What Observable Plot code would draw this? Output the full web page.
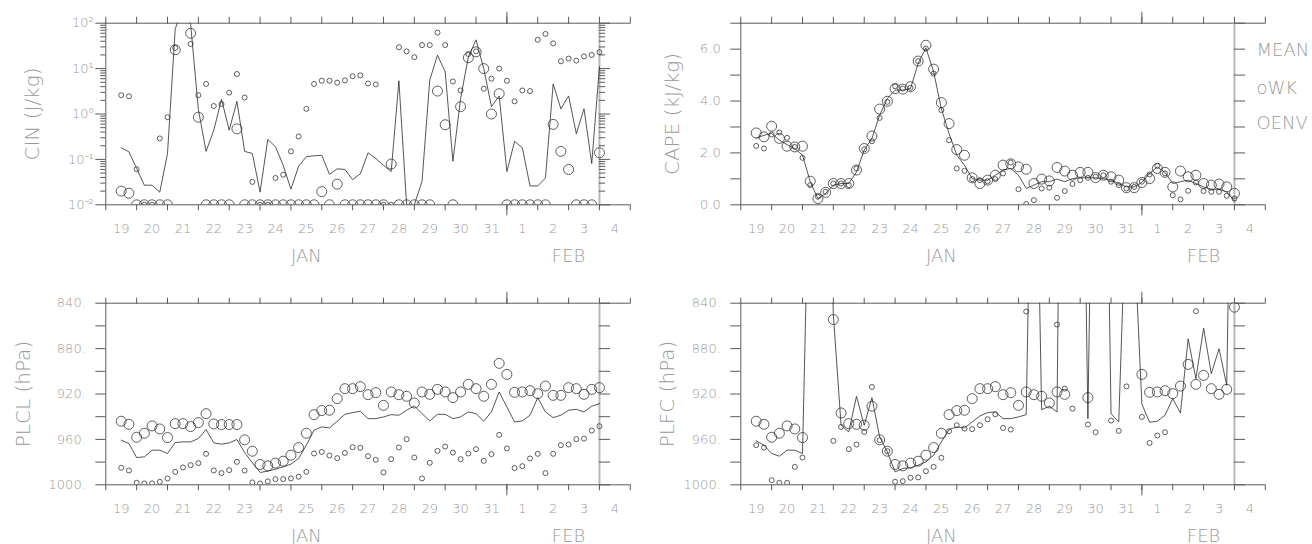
<!DOCTYPE html>
<html><head><meta charset="utf-8">
<script src="https://cdn.jsdelivr.net/npm/d3@7"></script>
<script src="https://cdn.jsdelivr.net/npm/@observablehq/plot@0.6"></script>
<style>
body{margin:0;background:#fff;}
#wrap{position:relative;width:1312px;height:544px;overflow:hidden;background:#fff;}
.panel{position:absolute;}
.panel text{font-weight:200;}
</style></head><body><div id="wrap"></div>
<script>
// time in days since 19 Jan 00 UTC, 6-hourly
const days = [0.5,0.75,1,1.25,1.5,1.75,2,2.25,2.5,2.75,3,3.25,3.5,3.75,4,4.25,4.5,4.75,5,5.25,5.5,5.75,6,6.25,6.5,6.75,7,7.25,7.5,7.75,8,8.25,8.5,8.75,9,9.25,9.5,9.75,10,10.25,10.5,10.75,11,11.25,11.5,11.75,12,12.25,12.5,12.75,13,13.25,13.5,13.75,14,14.25,14.5,14.75,15,15.25,15.5,15.75,16];
const dayTicks = [0,1,2,3,4,5,6,7,8,9,10,11,12,13,14,15,16,17];
const monthTick = [13];
const dayLabelPos = [0.5,1.5,2.5,3.5,4.5,5.5,6.5,7.5,8.5,9.5,10.5,11.5,12.5,13.5,14.5,15.5,16.5];
const dayLabels = ["19","20","21","22","23","24","25","26","27","28","29","30","31","1","2","3","4"];
const monthLabels = ["JAN","FEB"];
const monthPos = [6.5,15];
const legendLabels = ["MEAN","oWK","OENV"];

// CIN (J/kg)
const cinMean = [0.18,0.147,0.063,0.027,0.027,0.019,0.135,76,200,95, 1.26,0.15,0.44,2.1,0.44,1.9,0.15,0.135,0.019,0.275, 0.19,0.074,0.022,0.071,0.115,0.12,0.123,0.047,0.062,0.06, 0.036,0.048,0.14,0.105,0.074,0.054,5.4,0.01,0.01,0.033, 5.6,19.7,8.5,0.091,2.2,18,43,10,1.45,2.5, 0.054,0.25,0.18,0.026,0.026,0.039,4.6,1.3,2.5,0.37, 1.3,0.081,11];
const cinWK = [2.6,2.45,0.061,0.01,0.01,0.29,0.85,28.6,null,35, 2.6,4.6,1.5,1.66,2.95,7.6,2.3,0.032,0.01,0.01, 0.039,0.046,0.15,0.32,1.3,4.6,5.4,5.4,4.9,5.5, 6.8,7.1,4.7,4.5,0.01,0.01,29.5,24,17.8,33, 33,62,33,5.2,3.3,21,24,3.6,6.0,10, 5.4,1.9,3.3,3.2,43,58,36,14.5,16.6,15, 18.6,20,23];
const cinENV = [0.02,0.018,0.01,0.01,0.01,0.01,0.01,26,null,60, 0.85,0.01,0.01,0.01,0.01,0.47,0.01,0.01,0.01,0.01, 0.01,0.01,0.01,0.01,0.01,0.01,0.0195,0.01,0.0285,0.01, 0.01,0.01,0.01,0.01,0.01,0.079,0.01,0.01,0.01,0.01, 0.01,3.2,0.58,0.01,1.45,17.4,23.4,10,1.0,2.8, 0.01,0.01,0.01,0.01,0.01,0.01,0.59,0.15,0.06,0.01, 0.01,0.01,0.14];

// CAPE (kJ/kg)
const capeMean = [2.56,2.68,2.75,2.49,2.32,2.17,1.91,0.89,0.24,0.44, 0.76,0.82,0.82,1.27,2.11,2.56,3.45,4.1,4.42,4.42, 4.48,5.45,6.05,5.12,3.71,2.75,1.91,1.53,1.01,0.95, 0.95,1.14,1.34,1.4,1.14,0.63,0.76,0.89,0.89,0.99, 0.89,1.01,1.04,1.04,1.04,1.01,0.95,0.82,0.69,0.69, 0.86,1.21,1.46,1.25,0.82,0.89,0.95,0.82,0.69,0.6, 0.6,0.5,0.14];
const capeWK = [2.27,2.17,2.71,2.79,2.58,2.23,1.81,0.76,0.31,0.5, 0.82,0.82,0.76,1.4,2.14,2.45,3.35,3.97,4.57,4.48, 4.51,5.54,6.02,5.06,3.65,2.49,1.4,1.31,0.99,0.95, 0.91,0.99,1.21,1.63,0.6,0.03,0.18,0.63,0.66,0.27, 0.53,0.8,0.95,1.04,1.08,1.14,0.89,0.76,0.63,0.69, 0.89,1.17,1.5,1.21,0.37,0.21,0.54,0.86,0.53,0.5, 0.5,0.35,0.24];
const capeENV = [2.77,2.62,3.03,2.56,2.26,2.23,2.26,0.91,0.24,0.48, 0.82,0.82,0.82,1.34,2.17,2.65,3.69,3.99,4.48,4.46, 4.55,5.54,6.15,5.23,3.94,3.13,2.13,1.91,1.04,0.82, 0.95,1.14,1.53,1.58,1.46,1.37,0.82,0.99,0.92,1.44, 1.3,1.14,1.25,1.25,1.05,1.14,1.08,0.95,0.66,0.66, 0.86,1.01,1.4,1.25,0.69,1.3,1.08,1.14,0.82,0.76, 0.8,0.69,0.44];

// PLCL (hPa)
const plclMean = [960.7,963.6,976,975.4,969.5,969.5,972.4,962.8,962.2,962.2, 959.3,951.3,963.1,964.2,963.1,960.1,971.6,980.6,989.1,988, 986.2,984.2,981.8,976.8,965.1,951.9,949,949.9,944,937.9, 936.4,935.2,941.7,941.7,940.2,938.2,938.7,934.3,930.5,937.3, 943.7,937.9,937.9,941.7,940.2,935.8,937.3,944,935.8,918.2, 931.4,944.6,943.7,938.7,923.2,935.8,940.8,938.7,934.3,933.5, 935.8,930.8,928.5];
const plclWK = [985,987.4,998.2,998.8,998.8,997.3,994.4,988.6,984.7,982.7, 980.9,972.7,987.4,989.7,987.1,979.8,987.4,997.9,998.8,997, 995,995,994.4,992.9,988.6,972.4,971,974.2,976.5,971.9, 966.9,967.4,974.8,978,989.1,977.4,967.2,959.8,976,994.4, 980.6,970.1,966.3,971.6,977.4,972.4,968.6,978.9,973,956, 968,985.3,983.6,976.8,972.7,989.7,972.7,965.1,964.5,959.8, 959.3,952.2,948.4];
const plclENV = [944,946.7,958.1,954.6,948.1,950.8,958.4,946.1,946.1,948.7, 945.2,937.3,946.4,946.9,946.9,946.9,960.4,970.4,982.1,983.3, 980.9,979.2,973.9,967.2,954.6,938.2,934.6,934.3,924.1,915.3, 915.3,913.5,920.6,918.8,930,918.2,920.6,922,927.9,918.2, 920.3,915.9,918.2,923.2,918.2,911.5,915.3,922,911.5,893, 902.7,918.5,918.2,917.1,919.7,913,921.2,921.2,914.4,915.3, 920.3,915.9,914.4];

// PLFC (hPa)
const plfcMean = [961.3,965.1,972.4,974.8,969.5,969.5,972.4,670,620,620, 850,947.5,953.4,922,947.5,923.2,957.8,971,988.6,985.6, 985,982.7,979.8,973.9,962.2,951.3,949,949.9,944.6,939.3, 936.4,935.8,941.7,941.7,940.2,938.2,560,933.8,930.8,935.8, 250,400,480,941.7,480,490,937.3,944.6,740,780, 929,944.9,944,938.7,924.1,936.7,871.4,906.5,862,902.1, 880.1,912.4,500];
const plfcWK = [965.1,967.2,995.9,998.2,998.2,984.2,976,null,null,null, 961.3,949,968.6,964.5,953.4,913.8,960.7,970.4,997.3,996.8, 993.8,993.5,988,984.2,976.2,952.8,947.5,950.5,951,947.5, 942.3,937.9,949.9,951.3,null,847.3,null,null,null,858.8, 915.3,932.9,null,946.9,953.7,null,943.4,952.5,913.3,null, 940.2,963.1,956.6,953.7,null,null,null,847,null,null, null,null,null];
const plfcENV = [944,946.7,958.1,954.6,948.1,950.8,958.4,null,null,null, 854.4,936.7,946.1,946.7,947.5,930.8,960.4,970.4,982.1,983.3, 980.9,979.2,973.9,967.2,954.6,938.2,934.6,934.3,924.1,915.3, 915.3,913.5,920.6,918.8,930,918.2,920.6,922,927.9,918.2, 920.3,null,null,923.2,null,null,null,null,null,null, 902.7,918.5,918.2,917.1,919.7,913,893.9,911.5,903.6,915.3, 920.3,915.9,843.5];

// y-axis ticks
const cinMajor = [0.01,0.1,1,10,100];
const cinLabels = ["10⁻²","10⁻¹","10⁰","10¹","10²"];
const cinMinor = [0.02,0.03,0.04,0.05,0.06,0.07,0.08,0.09,0.2,0.3,0.4,0.5,0.6,0.7,0.8,0.9,2,3,4,5,6,7,8,9,20,30,40,50,60,70,80,90];
const capeMajor = [0,1,2,3,4,5,6,7];
const capeLabeled = [0,2,4,6];
const presMajor = [840,860,880,900,920,940,960,980,1000];
const presLabeled = [840,880,920,960,1000];

const FONT = "'DejaVu Sans', sans-serif";
const TXT = "#9a9a9a", AX = "#5a5a5a", GRAYLINE = "#b8b8b8", INK = "#2b2b2b";

function panel(o){
  const rows = days.map((t,i)=>({t, mean:o.mean[i], wk:o.wk[i], env:o.env[i]}));
  const [yBot, yTop] = o.domain;
  const marks = [
    Plot.ruleY([yBot, yTop], {x1:0, x2:17, stroke:AX, strokeWidth:1}),
    Plot.ruleX([0], {stroke:AX, strokeWidth:1}),
    Plot.ruleX([16], {stroke:GRAYLINE, strokeWidth:2}),
    Plot.axisX({anchor:"top", ticks:dayTicks, tickSize:o.topTick, tickFormat:()=>"", stroke:AX}),
    Plot.axisX({anchor:"top", ticks:monthTick, tickSize:12, tickFormat:()=>"", stroke:AX}),
    Plot.axisX({anchor:"bottom", ticks:dayTicks, tickSize:6, tickFormat:()=>"", stroke:AX}),
    Plot.axisX({anchor:"bottom", ticks:monthTick, tickSize:11, tickFormat:()=>"", stroke:AX}),
    Plot.text(dayLabels, {x:dayLabelPos, frameAnchor:"bottom", dy:24, lineAnchor:"middle", fill:TXT, fontSize:13}),
    Plot.text(monthLabels, {x:monthPos, frameAnchor:"bottom", dy:51, lineAnchor:"middle", fill:TXT, fontSize:18}),
    Plot.axisY({anchor:"left", ticks:o.major, tickSize:10, tickPadding:o.pad, tickFormat:o.fmt, stroke:AX, fill:TXT, fontSize:13}),
    Plot.ruleY(o.major, {x1:16, x2:16.36, stroke:AX}),
    Plot.text([o.title], {frameAnchor:"left", dx:o.titleDx, rotate:-90, fill:TXT, fontSize:20, lineAnchor:"middle", textAnchor:"middle"})
  ];
  if (o.minor) {
    marks.push(Plot.axisY({anchor:"left", ticks:o.minor, tickSize:5, tickFormat:()=>"", stroke:AX}));
    marks.push(Plot.ruleY(o.minor, {x1:16, x2:16.2, stroke:AX}));
  }
  marks.push(
    Plot.line(rows, {x:"t", y:"mean", stroke:INK, strokeWidth:0.8, clip:true}),
    Plot.dot(rows, {x:"t", y:"wk", r:2.5, stroke:INK, strokeWidth:0.75, fill:"none", clip:true}),
    Plot.dot(rows, {x:"t", y:"env", r:5, stroke:INK, strokeWidth:0.75, fill:"none", clip:true})
  );
  if (o.legend) {
    const dys = [27, 65.5, 100.5];
    legendLabels.forEach((lab,i)=>{
      marks.push(Plot.text([lab], {frameAnchor:"top-right", textAnchor:"start", lineAnchor:"middle", dx:-8.8, dy:dys[i], fill:TXT, fontSize:18}));
    });
  }
  const w = o.legend ? 677 : 655;
  const svg = Plot.plot({
    width:w, height:270,
    marginLeft:105.3, marginRight:w-105.3-524.5, marginTop:22.7, marginBottom:65.7,
    x:{domain:[0,17], label:null},
    y:{type:o.type, domain:o.domain, label:null},
    style:{fontFamily:FONT, fontSize:"13px", color:TXT, background:"transparent", overflow:"visible", maxWidth:"none"},
    marks
  });
  const div = document.createElement("div");
  div.className = "panel";
  div.style.left = o.left + "px";
  div.style.top = o.top + "px";
  div.appendChild(svg);
  document.getElementById("wrap").appendChild(div);
}

panel({left:0, top:0, type:"log", domain:[0.01,100], mean:cinMean, wk:cinWK, env:cinENV,
  major:cinMajor, minor:cinMinor, fmt:d=>cinLabels[cinMajor.indexOf(d)] ?? "", pad:2,
  title:"CIN (J/kg)", titleDx:-72.8, topTick:7});
panel({left:635, top:0, type:"linear", domain:[0,7], mean:capeMean, wk:capeWK, env:capeENV,
  major:capeMajor, fmt:d=>capeLabeled.includes(d) ? d.toFixed(1) : "", pad:10,
  title:"CAPE (kJ/kg)", titleDx:-68, topTick:7, legend:true});
panel({left:0, top:279.6, type:"linear", domain:[1000,840], mean:plclMean, wk:plclWK, env:plclENV,
  major:presMajor, fmt:d=>presLabeled.includes(d) ? d + "." : "", pad:10,
  title:"PLCL (hPa)", titleDx:-82, topTick:6});
panel({left:635, top:279.6, type:"linear", domain:[1000,840], mean:plfcMean, wk:plfcWK, env:plfcENV,
  major:presMajor, fmt:d=>presLabeled.includes(d) ? d + "." : "", pad:10,
  title:"PLFC (hPa)", titleDx:-73.6, topTick:6});
</script></body></html>
